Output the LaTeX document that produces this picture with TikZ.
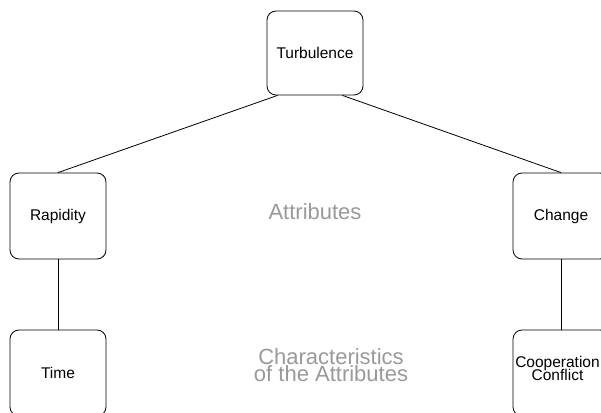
\documentclass[tikz,border=0pt]{standalone}
\usepackage{fontspec}
\setmainfont{Liberation Sans}
\usepackage{xcolor}
\usetikzlibrary{shapes, arrows, positioning, calc}
\definecolor{notegray}{RGB}{153,153,153}
\newcommand{\tightlines}{\lineskiplimit=-20pt\relax}

\begin{document}
\begin{tikzpicture}[
    x=1pt, y=1pt,
    node distance=157pt,
    module/.style={rectangle, draw, rounded corners=9pt, line width=0.8pt, minimum width=96pt, minimum height=86pt, align=center, font={\fontsize{15.5}{12.5}\selectfont\tightlines}},
    note/.style={text=notegray, align=center, inner sep=0pt, font={\fontsize{22}{17}\selectfont\tightlines}},
]
\useasboundingbox (0,0) rectangle (601,412);

% Root
\node (turb) [module, minimum height=84pt] at (315,359) {Turbulence};

% Attributes
\node (rap) [module] at (58,196) {Rapidity};
\node (chg) [module, right of=rap, xshift=346pt] {Change};

% Characteristics
\node (time) [module, below of=rap] {Time};
\node (coop) [module, below of=chg, inner xsep=0pt, text depth=9pt] {Cooperation\hspace*{7pt}\\Conflict\hspace*{7pt}};

% Level captions
\node (attr) [note] at (315,200) {Attributes};
\node (chars) [note] at (331,47) {Characteristics\\of the Attributes};

% Lines
\draw [line width=0.8pt] ([xshift=11pt]turb.south west) -- (rap.north);
\draw [line width=0.8pt] ([xshift=-21pt]turb.south east) -- (chg.north);
\draw [line width=0.8pt] (rap) -- (time);
\draw [line width=0.8pt] (chg) -- (coop);

\end{tikzpicture}
\end{document}
